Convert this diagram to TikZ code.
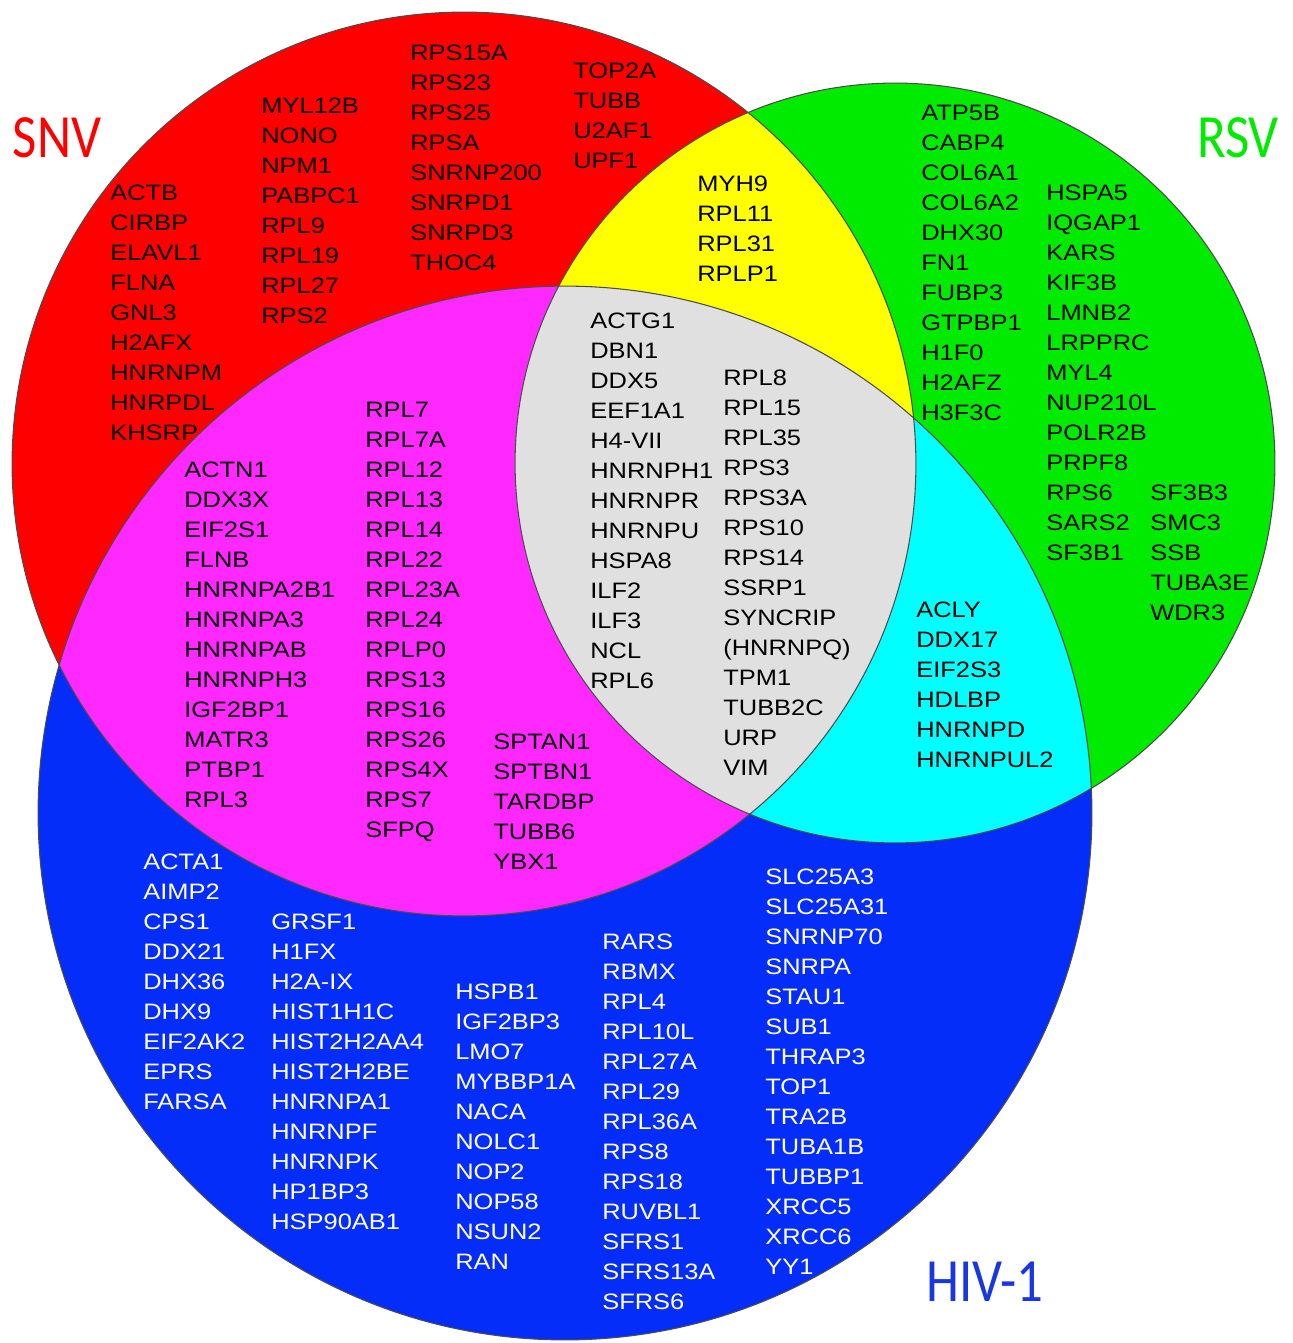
\documentclass[tikz,border=0pt]{standalone}
\usepackage{fontspec}
\usepackage{xcolor}
\newfontfamily\genefont{Liberation Sans}[FakeStretch=1.14]
\newfontfamily\vlabelfont{Carlito}[FakeStretch=0.86]
\definecolor{snvred}{RGB}{255,0,0}
\definecolor{rsvgreen}{RGB}{0,235,0}
\definecolor{hivblue}{RGB}{5,45,250}
\definecolor{ovyellow}{RGB}{255,255,0}
\definecolor{ovmagenta}{RGB}{255,40,255}
\definecolor{ovcyan}{RGB}{0,255,255}
\definecolor{ovgray}{RGB}{224,224,224}
\definecolor{hivlab}{RGB}{25,55,225}
\tikzset{
  gene/.style={anchor=west,inner sep=0pt,font=\genefont\fontsize{12.7}{15}\selectfont,text height=0.32cm,text depth=0pt},
  wgene/.style={gene,text=white},
  vlab/.style={inner sep=0pt,font=\vlabelfont\fontsize{35}{40}\selectfont},
  rim/.style={draw=black!70,line width=0.6pt}
}
\newcommand{\rsnv}{9.04cm}
\newcommand{\rrsv}{7.6cm}
\newcommand{\rhiv}{10.54cm}
% one column of gene names, 30px apart
\newcommand{\genecol}[5]{%
  \foreach \g [count=\i from 0] in {#5}
    \node[#4] (#1-\i) at ({#2},{#3+30*\i}) {\g};}

\begin{document}
\begin{tikzpicture}[x=0.02cm,y=-0.02cm]
\useasboundingbox (0,0) rectangle (1293,1343);
\coordinate (snvC) at (464,464);
\coordinate (rsvC) at (895,463);
\coordinate (hivC) at (565,813);
% circles and overlaps
\fill[snvred] (snvC) circle (\rsnv);
\fill[rsvgreen] (rsvC) circle (\rrsv);
\fill[hivblue] (hivC) circle (\rhiv);
\begin{scope}
  \clip (snvC) circle (\rsnv);
  \fill[ovyellow] (rsvC) circle (\rrsv);
  \fill[ovmagenta] (hivC) circle (\rhiv);
\end{scope}
\begin{scope}
  \clip (rsvC) circle (\rrsv);
  \fill[ovcyan] (hivC) circle (\rhiv);
  \clip (snvC) circle (\rsnv);
  \fill[ovgray] (hivC) circle (\rhiv);
\end{scope}
\draw[rim] (snvC) circle (\rsnv);
\draw[rim] (rsvC) circle (\rrsv);
\draw[rim] (hivC) circle (\rhiv);
% set labels
\node[vlab,text=snvred] (snvlab) at (57,138) {SNV};
\node[vlab,text=rsvgreen] (rsvlab) at (1238,138) {RSV};
\node[vlab,text=hivlab] (hivlab) at (985,1282) {HIV-1};
% SNV only
\genecol{snvA}{110}{192}{gene}{ACTB,CIRBP,ELAVL1,FLNA,GNL3,H2AFX,HNRNPM,HNRPDL,KHSRP}
\genecol{snvB}{261}{105}{gene}{MYL12B,NONO,NPM1,PABPC1,RPL9,RPL19,RPL27,RPS2}
\genecol{snvC}{410}{52}{gene}{RPS15A,RPS23,RPS25,RPSA,SNRNP200,SNRPD1,SNRPD3,THOC4}
\genecol{snvD}{573}{70}{gene}{TOP2A,TUBB,U2AF1,UPF1}
% SNV and RSV
\genecol{snrs}{697}{183}{gene}{MYH9,RPL11,RPL31,RPLP1}
% RSV only
\genecol{rsvA}{921}{112}{gene}{ATP5B,CABP4,COL6A1,COL6A2,DHX30,FN1,FUBP3,GTPBP1,H1F0,H2AFZ,H3F3C}
\genecol{rsvB}{1046}{192}{gene}{HSPA5,IQGAP1,KARS,KIF3B,LMNB2,LRPPRC,MYL4,NUP210L,POLR2B,PRPF8,RPS6,SARS2,SF3B1}
\genecol{rsvC}{1150}{492}{gene}{SF3B3,SMC3,SSB,TUBA3E,WDR3}
% all three
\genecol{allA}{590}{320}{gene}{ACTG1,DBN1,DDX5,EEF1A1,H4-VII,HNRNPH1,HNRNPR,HNRNPU,HSPA8,ILF2,ILF3,NCL,RPL6}
\genecol{allB}{723}{377}{gene}{RPL8,RPL15,RPL35,RPS3,RPS3A,RPS10,RPS14,SSRP1,SYNCRIP,{(HNRNPQ)},TPM1,TUBB2C,URP,VIM}
% SNV and HIV-1
\genecol{snhvA}{184}{469}{gene}{ACTN1,DDX3X,EIF2S1,FLNB,HNRNPA2B1,HNRNPA3,HNRNPAB,HNRNPH3,IGF2BP1,MATR3,PTBP1,RPL3}
\genecol{snhvB}{365}{409}{gene}{RPL7,RPL7A,RPL12,RPL13,RPL14,RPL22,RPL23A,RPL24,RPLP0,RPS13,RPS16,RPS26,RPS4X,RPS7,SFPQ}
\genecol{snhvC}{493}{741}{gene}{SPTAN1,SPTBN1,TARDBP,TUBB6,YBX1}
% RSV and HIV-1
\genecol{rshv}{916}{609}{gene}{ACLY,DDX17,EIF2S3,HDLBP,HNRNPD,HNRNPUL2}
% HIV-1 only
\genecol{hivA}{143}{861}{wgene}{ACTA1,AIMP2,CPS1,DDX21,DHX36,DHX9,EIF2AK2,EPRS,FARSA}
\genecol{hivB}{271}{921}{wgene}{GRSF1,H1FX,H2A-IX,HIST1H1C,HIST2H2AA4,HIST2H2BE,HNRNPA1,HNRNPF,HNRNPK,HP1BP3,HSP90AB1}
\genecol{hivC}{455}{991}{wgene}{HSPB1,IGF2BP3,LMO7,MYBBP1A,NACA,NOLC1,NOP2,NOP58,NSUN2,RAN}
\genecol{hivD}{602}{941}{wgene}{RARS,RBMX,RPL4,RPL10L,RPL27A,RPL29,RPL36A,RPS8,RPS18,RUVBL1,SFRS1,SFRS13A,SFRS6}
\genecol{hivE}{765}{876}{wgene}{SLC25A3,SLC25A31,SNRNP70,SNRPA,STAU1,SUB1,THRAP3,TOP1,TRA2B,TUBA1B,TUBBP1,XRCC5,XRCC6,YY1}
\end{tikzpicture}
\end{document}
